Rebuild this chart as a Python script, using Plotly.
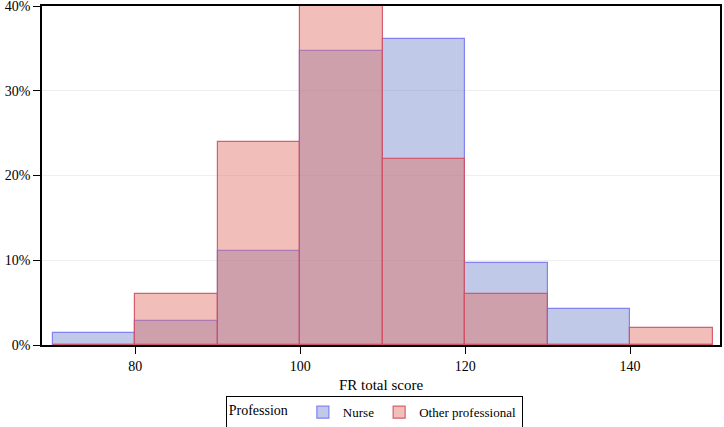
import plotly.graph_objects as go

bin_start = [70, 80, 90, 100, 110, 120, 130, 140]
nurse_pct = [1.4, 2.8, 11.1, 34.7, 36.1, 9.7, 4.2, 0.0]
other_pct = [0.0, 6.0, 24.0, 40.0, 22.0, 6.0, 0.0, 2.0]
x_ticks = [80, 100, 120, 140]
y_ticks = [0, 10, 20, 30, 40]

font = "Liberation Serif, Times New Roman, serif"
centers = [b + 5 for b in bin_start]

fig = go.Figure()
fig.add_trace(go.Bar(
    x=centers, y=nurse_pct, width=10, name="Nurse",
    marker=dict(color="rgba(115,135,205,0.45)",
                line=dict(color="rgba(120,120,240,0.9)", width=1.2)),
))
fig.add_trace(go.Bar(
    x=centers, y=other_pct, width=10, name="Other professional",
    marker=dict(color="rgba(225,110,100,0.45)",
                line=dict(color="rgba(210,80,100,0.9)", width=1.2)),
))

fig.update_layout(
    width=724, height=427,
    barmode="overlay",
    bargap=0,
    plot_bgcolor="white",
    paper_bgcolor="white",
    margin=dict(l=42, r=4, t=6, b=82, autoexpand=False),
    font=dict(family=font, size=14, color="black"),
    xaxis=dict(
        title=dict(text="FR total score", font=dict(size=15), standoff=7),
        range=[68.7, 150.9], tickvals=x_ticks,
        ticks="outside", ticklen=7, tickcolor="black",
        showline=True, linecolor="black", linewidth=1.5, mirror=True,
        showgrid=False, zeroline=False,
    ),
    yaxis=dict(
        range=[0, 40.02], tickvals=y_ticks,
        ticktext=[f"{v}%" for v in y_ticks],
        ticks="outside", ticklen=7, tickcolor="black",
        ticklabeloverflow="allow",
        showline=True, linecolor="black", linewidth=1.5, mirror=True,
        showgrid=True, gridcolor="#eeeeee", zeroline=False,
    ),
    legend=dict(
        orientation="h", x=0.271, xanchor="left", y=-0.151, yanchor="top",
        bordercolor="black", borderwidth=1,
        title=dict(text="Profession  ", font=dict(size=14)),
        font=dict(size=13),
        tracegroupgap=0, itemwidth=30,
    ),
)

# drop the browser's default body margin so the figure sits at the page corner
fig.write_html("out.html", config={"displayModeBar": False},
               post_script="document.body.style.margin='0';")
